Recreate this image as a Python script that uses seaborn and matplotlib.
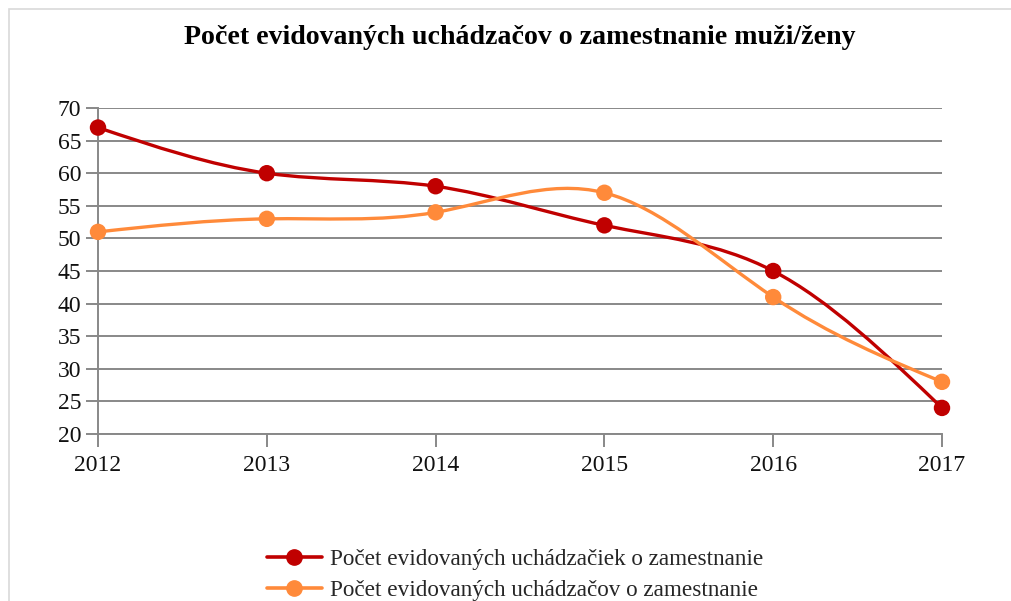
import numpy as np
import pandas as pd
import matplotlib
matplotlib.use("Agg")
import matplotlib.pyplot as plt
import seaborn as sns
from matplotlib.path import Path
from matplotlib.patches import PathPatch, Rectangle
from matplotlib.lines import Line2D

years = ["2012", "2013", "2014", "2015", "2016", "2017"]
zeny = [67, 60, 58, 52, 45, 24]
muzi = [51, 53, 54, 57, 41, 28]
labels = ["Počet evidovaných uchádzačiek o zamestnanie",
          "Počet evidovaných uchádzačov o zamestnanie"]
colors = ["#c00000", "#ff8a3a"]
title = "Počet evidovaných uchádzačov o zamestnanie muži/ženy"

sns.set_style("white")
plt.rcParams["font.family"] = ["Liberation Serif", "DejaVu Serif"]

df = pd.DataFrame({"rok": list(range(len(years))) * 2,
                   "pocet": zeny + muzi,
                   "seria": [labels[0]] * len(years) + [labels[1]] * len(years)})


def spline_path(y):
    # natural cubic spline through the points, drawn as bezier segments
    y = np.asarray(y, dtype=float)
    n = len(y)
    A = np.zeros((n, n))
    b = np.zeros(n)
    A[0, 0] = A[-1, -1] = 1
    for i in range(1, n - 1):
        A[i, i - 1], A[i, i], A[i, i + 1] = 1, 4, 1
        b[i] = 6 * (y[i + 1] - 2 * y[i] + y[i - 1])
    M = np.linalg.solve(A, b)
    verts = [(0, y[0])]
    codes = [Path.MOVETO]
    for i in range(n - 1):
        d0 = (y[i + 1] - y[i]) - (2 * M[i] + M[i + 1]) / 6
        d1 = (y[i + 1] - y[i]) + (M[i] + 2 * M[i + 1]) / 6
        verts += [(i + 1 / 3, y[i] + d0 / 3), (i + 2 / 3, y[i + 1] - d1 / 3), (i + 1, y[i + 1])]
        codes += [Path.CURVE4] * 3
    return Path(verts, codes)


fig = plt.figure(figsize=(10.11, 6.01), dpi=100)
ax = fig.add_axes([98 / 1011, 1 - 434 / 601, (942 - 98) / 1011, (434 - 108) / 601])

fig.patches.append(Rectangle((9 / 1011, -0.1), 1.2, 1 - 9 / 601 + 0.1, transform=fig.transFigure,
                             fill=False, edgecolor="#d9d9d9", linewidth=1.2))

for vals, c in zip([zeny, muzi], colors):
    ax.add_patch(PathPatch(spline_path(vals), fill=False, edgecolor=c, linewidth=2.4, zorder=3))

sns.scatterplot(data=df, x="rok", y="pocet", hue="seria", palette=colors, s=140,
                edgecolor="none", legend=False, ax=ax, zorder=4, clip_on=False)

ax.set_xlim(0, len(years) - 1)
ax.set_ylim(20, 70)
ax.set_xticks(range(len(years)))
ax.set_xticklabels(years)
ax.set_yticks(range(20, 71, 5))
ax.set_xlabel("")
ax.set_ylabel("")
ax.yaxis.grid(True, color="#888888", linewidth=1.4)
ax.set_axisbelow(True)
for s in ["top", "right"]:
    ax.spines[s].set_visible(False)
for s in ["left", "bottom"]:
    ax.spines[s].set_color("#888888")
    ax.spines[s].set_linewidth(1.4)
ax.tick_params(axis="both", length=9, width=1.4, color="#888888", labelsize=17,
               labelcolor="#111111", direction="out", left=True, bottom=True)
ax.tick_params(axis="y", pad=3)
ax.tick_params(axis="x", pad=6)

fig.text((98 + 942) / 2 / 1011, 1 - 38 / 601, title, ha="center", va="center",
         fontsize=20.1, fontweight="bold", color="#000000")

handles = [Line2D([], [], color=c, linewidth=2.6, marker="o", markersize=11) for c in colors]
fig.legend(handles, labels, loc="center left", bbox_to_anchor=(255 / 1011, 1 - 575 / 601),
           frameon=False, fontsize=16.7, handlelength=2.4, handletextpad=0.35,
           labelspacing=0.45, borderpad=0)

fig.savefig("out.png", dpi=100)
